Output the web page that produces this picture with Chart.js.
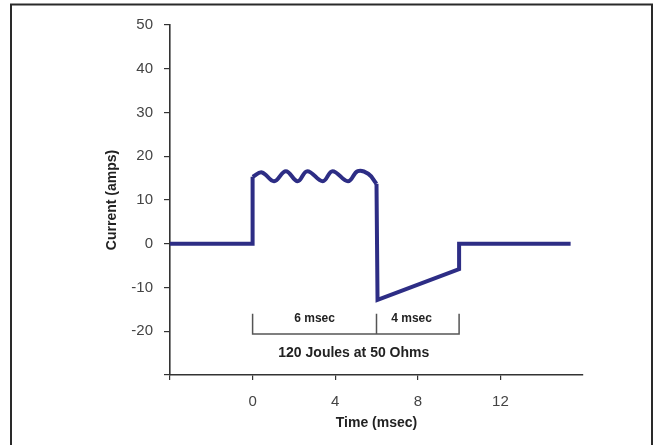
<!DOCTYPE html>
<html>
<head>
<meta charset="utf-8">
<script src="https://cdn.jsdelivr.net/npm/chart.js@4"></script>
<style>
  body { margin: 0; background: #fff; }
  canvas { display: block; }
</style>
</head>
<body>
<canvas id="pulseChart" width="660" height="445"></canvas>
<script>
// values (time in msec, current in amps)
var riseTime = [-4, 0, 0];
var riseCurrent = [0, 0, 15.3];

var waveTime = [0, 0.45, 1.04, 1.61, 2.18, 2.65, 3.4, 3.87, 4.62, 5.09, 5.6, 6.0];
var waveCurrent = [15.3, 16.3, 14.3, 16.6, 14.3, 16.6, 14.3, 16.6, 14.3, 16.6, 16.0, 13.7];

var tailTime = [6.0, 6.05, 10, 10, 15.4];
var tailCurrent = [13.7, -12.8, -5.8, 0, 0];

var bracketTime = [0, 0, 10, 10, null, 6, 6];
var bracketCurrent = [-16, -20.6, -20.6, -16, null, -16, -20.6];

var xTicks = [-4, 0, 4, 8, 12];
var xTickLabels = ['', '0', '4', '8', '12'];
var yTicks = [-30, -20, -10, 0, 10, 20, 30, 40, 50];
var yTickLabels = ['', '-20', '-10', '0', '10', '20', '30', '40', '50'];

var noteText = ['6 msec', '4 msec', '120 Joules at 50 Ohms'];
var noteTime = [3, 7.7, 4.9];
var noteCurrent = [-17.1, -17.1, -25];

var xTitle = 'Time (msec)';
var yTitle = 'Current (amps)';

var lineColor = '#2d2d85';
var axisColor = '#333333';
var fontName = '"Liberation Sans", Arial, sans-serif';

function toPoints(xs, ys) {
  var pts = [];
  for (var i = 0; i < xs.length; i++) {
    pts.push({ x: xs[i], y: ys[i] });
  }
  return pts;
}

function pulseSet(xs, ys, tension) {
  return {
    data: toPoints(xs, ys),
    showLine: true,
    borderColor: lineColor,
    borderWidth: 4,
    pointRadius: 0,
    tension: tension,
    borderJoinStyle: 'miter',
    fill: false
  };
}

var extrasPlugin = {
  id: 'extras',
  afterDraw: function (chart) {
    var ctx = chart.ctx;
    var area = chart.chartArea;
    var xs = chart.scales.x;
    var ys = chart.scales.y;
    ctx.save();

    // outer frame
    ctx.strokeStyle = '#2a2a2a';
    ctx.lineWidth = 2;
    ctx.strokeRect(11, 4.5, 641, 460);

    // notes under the pulse
    ctx.fillStyle = '#222';
    ctx.textAlign = 'center';
    ctx.textBaseline = 'middle';
    for (var i = 0; i < noteText.length; i++) {
      ctx.font = (i < 2 ? 'bold 12px ' : 'bold 14px ') + fontName;
      ctx.fillText(noteText[i], xs.getPixelForValue(noteTime[i]), ys.getPixelForValue(noteCurrent[i]));
    }

    // axis titles
    ctx.font = 'bold 14px ' + fontName;
    ctx.fillText(xTitle, (area.left + area.right) / 2, 423);
    ctx.translate(112, (area.top + area.bottom) / 2);
    ctx.rotate(-Math.PI / 2);
    ctx.fillText(yTitle, 0, 0);
    ctx.restore();
  }
};

var config = {
  type: 'scatter',
  data: {
    datasets: [
      pulseSet(riseTime, riseCurrent, 0),
      pulseSet(waveTime, waveCurrent, 0.4),
      pulseSet(tailTime, tailCurrent, 0),
      {
        data: toPoints(bracketTime, bracketCurrent),
        showLine: true,
        spanGaps: false,
        borderColor: '#555',
        borderWidth: 1.5,
        pointRadius: 0,
        tension: 0
      }
    ]
  },
  options: {
    responsive: false,
    animation: false,
    layout: {
      padding: { top: 25, right: 77, bottom: 0, left: 0 }
    },
    plugins: {
      legend: { display: false },
      tooltip: { enabled: false }
    },
    scales: {
      x: {
        type: 'linear',
        position: 'bottom',
        min: -4,
        max: 16,
        afterBuildTicks: function (scale) {
          scale.ticks = xTicks.map(function (v) { return { value: v }; });
        },
        afterFit: function (scale) { scale.height = 70; },
        ticks: {
          autoSkip: false,
          maxRotation: 0,
          padding: 13,
          color: '#444',
          font: { family: fontName, size: 15 },
          callback: function (value) {
            return xTickLabels[xTicks.indexOf(value)];
          }
        },
        grid: {
          drawOnChartArea: false,
          drawTicks: true,
          tickLength: 5,
          color: axisColor,
          lineWidth: 1.2
        },
        border: { display: true, color: axisColor, width: 1.6 }
      },
      y: {
        type: 'linear',
        position: 'left',
        min: -30,
        max: 50,
        afterBuildTicks: function (scale) {
          scale.ticks = yTicks.map(function (v) { return { value: v }; });
        },
        afterFit: function (scale) { scale.width = 170; },
        ticks: {
          autoSkip: false,
          padding: 11,
          color: '#444',
          font: { family: fontName, size: 15 },
          callback: function (value) {
            return yTickLabels[yTicks.indexOf(value)];
          }
        },
        grid: {
          drawOnChartArea: false,
          drawTicks: true,
          tickLength: 6,
          color: axisColor,
          lineWidth: 1.2
        },
        border: { display: true, color: axisColor, width: 1.6 }
      }
    }
  },
  plugins: [extrasPlugin]
};

new Chart(document.getElementById('pulseChart'), config);
</script>
</body>
</html>
